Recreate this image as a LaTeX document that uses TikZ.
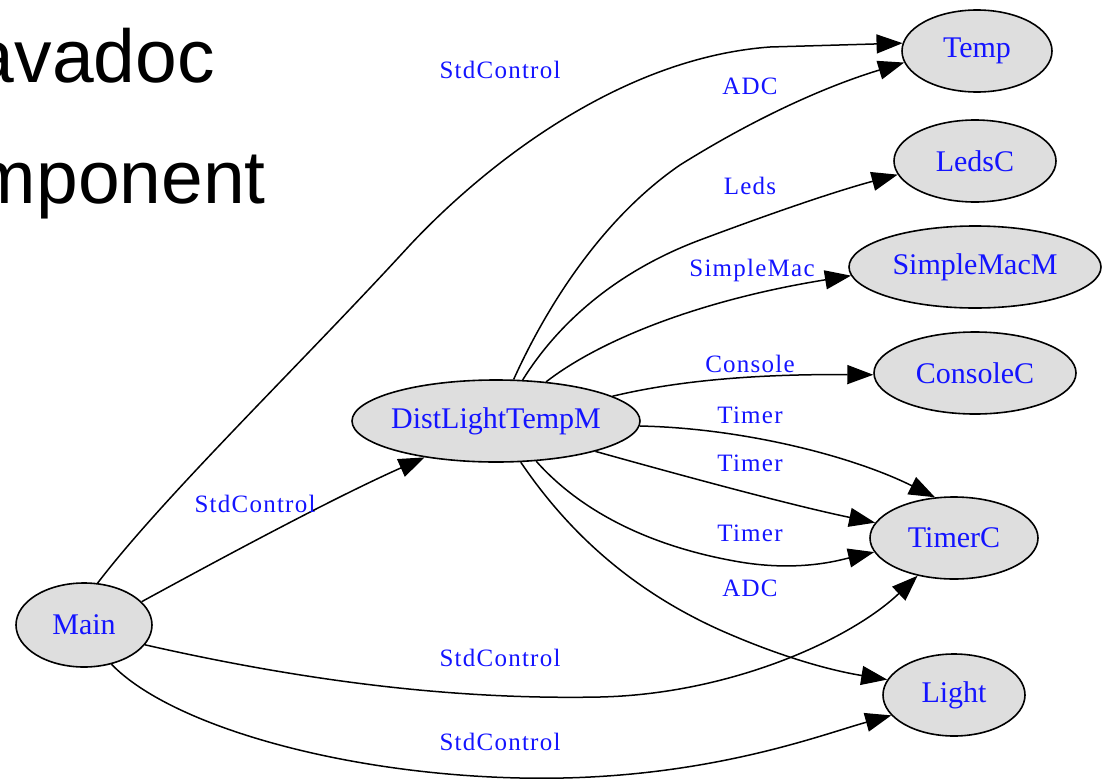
\documentclass[tikz,border=0pt]{standalone}
\usepackage{fontspec}
\setmainfont{Liberation Serif}
\newfontfamily\arialfont{Liberation Sans}
\newfontfamily\lblfont{Liberation Serif}[LetterSpace=5]
\usetikzlibrary{shapes.geometric,arrows.meta}
\definecolor{nodegray}{gray}{0.87}
\definecolor{lblblue}{RGB}{20,20,255}
\begin{document}
\begin{tikzpicture}[x=1pt,y=-1pt,
  comp/.style={ellipse,draw=black,line width=1.6pt,fill=nodegray,inner sep=0pt,text=lblblue,font=\fontsize{30}{36}\selectfont},
  elabel/.style={text=lblblue,font=\lblfont\fontsize{25}{30}\selectfont,inner sep=0pt},
  slide/.style={font=\arialfont\fontsize{75}{80}\selectfont,anchor=base east,inner sep=0pt},
  conn/.style={line width=1.5pt,-{Triangle[length=26pt,width=19pt]}},
]
\useasboundingbox (0,0) rectangle (1111,779);
\clip (0,0) rectangle (1111,779);

% slide text (cut off at the left, as in the reference)
\node[slide] (t1) at (215,82) {avadoc};
\node[slide] (t2) at (266,203) {mponent};

% components
\node[comp, minimum width=150pt, minimum height=82pt] (Temp) at (977,51) {Temp};
\node[comp, minimum width=162pt, minimum height=82pt] (LedsC) at (975,161) {LedsC};
\node[comp, minimum width=252pt, minimum height=82pt] (SimpleMacM) at (975,267) {SimpleMacM};
\node[comp, minimum width=202pt, minimum height=82pt] (ConsoleC) at (975,373) {ConsoleC};
\node[comp, minimum width=288pt, minimum height=82pt, inner xsep=-5pt] (DLT) at (496,421) {DistLightTempM};
\node[comp, minimum width=168pt, minimum height=82pt] (TimerC) at (954,538) {TimerC};
\node[comp, minimum width=142pt, minimum height=82pt] (Light) at (954,695) {Light};
\node[comp, minimum width=136pt, minimum height=84pt] (Main) at (84,625) {Main};

% connectors
\draw[conn] (Main.72) .. controls (165,495) and (300,365) .. (410,245) .. controls (485,165) and (620,58) .. (770,47) -- (Temp.174);
\draw[conn] (DLT.67) .. controls (545,310) and (600,220) .. (680,165) .. controls (760,115) and (830,85) .. (Temp.189);
\draw[conn] (DLT.57) .. controls (560,320) and (620,270) .. (700,240) .. controls (780,210) and (840,190) .. (LedsC.190);
\draw[conn] (DLT.38) .. controls (600,340) and (700,300) .. (SimpleMacM.184);
\draw[conn] (DLT.12) .. controls (680,380) and (760,374) .. (ConsoleC.181);
\draw[conn] (DLT.358) .. controls (740,428) and (850,455) .. (TimerC.115);
\draw[conn] (DLT.343) .. controls (680,475) and (790,505) .. (TimerC.169);
\draw[conn] (DLT.315) .. controls (575,505) and (640,545) .. (740,562) .. controls (800,572) and (840,560) .. (TimerC.190);
\draw[conn] (DLT.301) .. controls (560,520) and (620,585) .. (720,630) .. controls (790,661) and (840,672) .. (Light.167);
\draw[conn] (Main.22) .. controls (240,548) and (340,495) .. (DLT.207);
\draw[conn] (Main.342) .. controls (300,680) and (450,700) .. (600,697) .. controls (730,694) and (850,640) .. (TimerC.226);
\draw[conn] (Main.305) .. controls (170,725) and (340,774) .. (520,778) .. controls (700,782) and (820,735) .. (Light.198);

% connector labels
\node[elabel] (l1) at (500,70) {StdControl};
\node[elabel] (l2) at (750,86) {ADC};
\node[elabel] (l3) at (750,186) {Leds};
\node[elabel] (l4) at (752,270) {SimpleMac};
\node[elabel] (l5) at (750,364) {Console};
\node[elabel] (l6) at (750,415) {Timer};
\node[elabel] (l7) at (750,463) {Timer};
\node[elabel] (l8) at (750,533) {Timer};
\node[elabel] (l9) at (750,588) {ADC};
\node[elabel] (l10) at (255,504) {StdControl};
\node[elabel] (l11) at (500,658) {StdControl};
\node[elabel] (l12) at (500,742) {StdControl};
\end{tikzpicture}
\end{document}
